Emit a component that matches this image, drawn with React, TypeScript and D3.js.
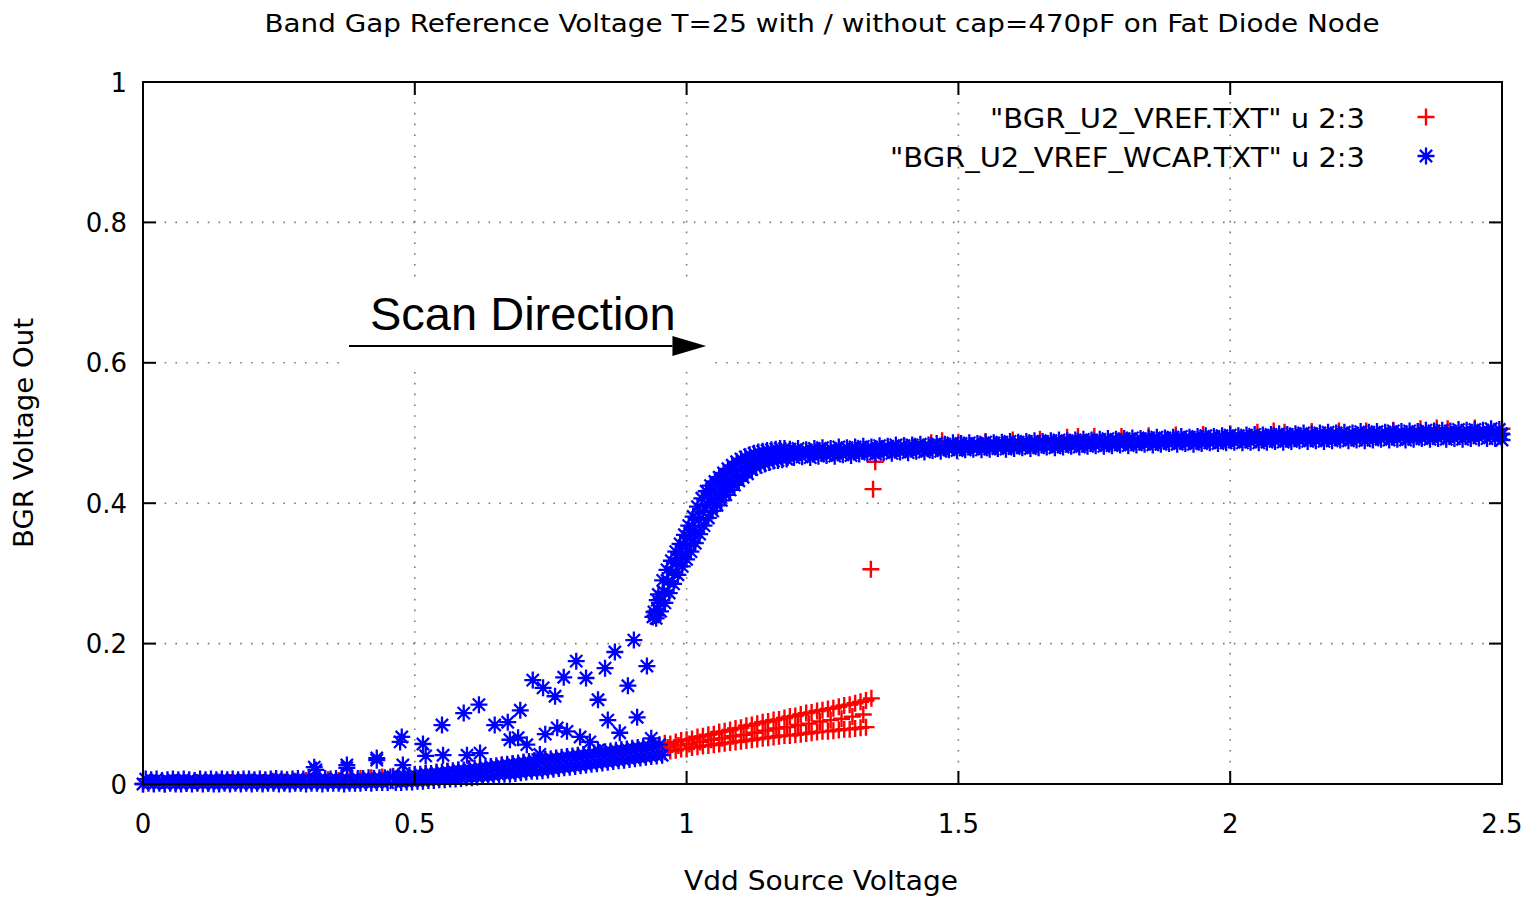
import React from 'react';
import * as d3 from 'd3';

const W = 1531;
const H = 901;

const titleText = 'Band Gap Reference Voltage T=25 with / without cap=470pF on Fat Diode Node';
const xLabelText = 'Vdd Source Voltage';
const yLabelText = 'BGR Voltage Out';
const legendLabels = ['"BGR_U2_VREF.TXT" u 2:3', '"BGR_U2_VREF_WCAP.TXT" u 2:3'];
const annotationText = 'Scan Direction';

const xTicks = [0, 0.5, 1, 1.5, 2, 2.5];
const xTickLabels = ['0', '0.5', '1', '1.5', '2', '2.5'];
const yTicks = [0, 0.2, 0.4, 0.6, 0.8, 1];
const yTickLabels = ['0', '0.2', '0.4', '0.6', '0.8', '1'];

// ---------- Red series: "BGR_U2_VREF.TXT" (no cap) ----------
const redRamp: [number, number][] = [
  [0, 0], [0.02, 0.001], [0.04, 0], [0.06, 0.002], [0.08, 0.001], [0.1, 0.002], [0.12, 0.001], [0.14, 0.003],
  [0.16, 0.002], [0.18, 0.002], [0.2, 0.003], [0.22, 0.002], [0.24, 0.004], [0.26, 0.003], [0.28, 0.004],
  [0.3, 0.005], [0.32, 0.004], [0.34, 0.006], [0.36, 0.005], [0.38, 0.007], [0.4, 0.008], [0.42, 0.009],
  [0.44, 0.01], [0.46, 0.011], [0.48, 0.012], [0.5, 0.014], [0.52, 0.015], [0.54, 0.017], [0.56, 0.018],
  [0.58, 0.02], [0.6, 0.022], [0.62, 0.023], [0.64, 0.025], [0.66, 0.027], [0.68, 0.029], [0.7, 0.031],
  [0.72, 0.033], [0.74, 0.035], [0.76, 0.036], [0.78, 0.038], [0.8, 0.04], [0.82, 0.041], [0.84, 0.043],
  [0.86, 0.045], [0.88, 0.046], [0.9, 0.048], [0.92, 0.05], [0.94, 0.052],
];
const redBandUpper: [number, number][] = [
  [0.95, 0.055], [0.96, 0.058], [0.97, 0.057], [0.98, 0.06], [0.99, 0.062], [1.0, 0.063], [1.01, 0.064],
  [1.02, 0.067], [1.03, 0.068], [1.04, 0.07], [1.05, 0.071], [1.06, 0.074], [1.07, 0.075], [1.08, 0.077],
  [1.09, 0.079], [1.1, 0.08], [1.11, 0.083], [1.12, 0.084], [1.13, 0.086], [1.14, 0.088], [1.15, 0.089],
  [1.16, 0.091], [1.17, 0.092], [1.18, 0.094], [1.19, 0.096], [1.2, 0.097], [1.21, 0.099], [1.22, 0.101],
  [1.23, 0.102], [1.24, 0.104], [1.25, 0.105], [1.26, 0.107], [1.27, 0.108], [1.28, 0.11], [1.29, 0.112],
  [1.3, 0.113], [1.31, 0.115], [1.32, 0.117], [1.33, 0.119], [1.34, 0.122],
];
const redBandMiddle: [number, number][] = [
  [0.965, 0.052], [0.985, 0.055], [1.005, 0.057], [1.025, 0.06], [1.045, 0.063], [1.065, 0.065], [1.085, 0.068],
  [1.105, 0.07], [1.125, 0.073], [1.145, 0.076], [1.165, 0.079], [1.185, 0.081], [1.205, 0.084], [1.225, 0.086],
  [1.245, 0.089], [1.265, 0.091], [1.285, 0.093], [1.305, 0.096], [1.325, 0.099],
];
const redBandLower: [number, number][] = [
  [0.96, 0.046], [0.97, 0.047], [0.98, 0.048], [0.99, 0.05], [1.0, 0.05], [1.01, 0.052], [1.02, 0.053],
  [1.03, 0.054], [1.04, 0.055], [1.05, 0.056], [1.06, 0.057], [1.07, 0.058], [1.08, 0.059], [1.09, 0.06],
  [1.1, 0.061], [1.11, 0.062], [1.12, 0.063], [1.13, 0.064], [1.14, 0.065], [1.15, 0.066], [1.16, 0.067],
  [1.17, 0.068], [1.18, 0.069], [1.19, 0.069], [1.2, 0.07], [1.21, 0.071], [1.22, 0.072], [1.23, 0.073],
  [1.24, 0.074], [1.25, 0.075], [1.26, 0.075], [1.27, 0.076], [1.28, 0.077], [1.29, 0.078], [1.3, 0.078],
  [1.31, 0.079], [1.32, 0.08], [1.33, 0.081],
];
const redJump: [number, number][] = [[1.339, 0.306], [1.343, 0.42], [1.347, 0.459]];
const redFlat: [number, number][] = [
  [1.36, 0.478], [1.4, 0.482], [1.45, 0.486], [1.47, 0.489], [1.5, 0.487], [1.55, 0.488], [1.6, 0.49],
  [1.65, 0.491], [1.7, 0.494], [1.72, 0.495], [1.75, 0.495], [1.8, 0.495], [1.85, 0.496], [1.9, 0.497],
  [1.95, 0.498], [2.0, 0.499], [2.05, 0.501], [2.08, 0.503], [2.1, 0.501], [2.15, 0.502], [2.2, 0.503],
  [2.25, 0.503], [2.3, 0.504], [2.35, 0.506], [2.38, 0.507], [2.4, 0.506], [2.45, 0.507], [2.5, 0.506],
];

// ---------- Blue series: "BGR_U2_VREF_WCAP.TXT" (with cap) ----------
const blueBaseStart = 0;
const blueBaseStep = 0.01;
const blueBaseUpper = [
  0.007, 0.006, 0.007, 0.005, 0.006, 0.007, 0.006, 0.007, 0.006, 0.005,
  0.007, 0.006, 0.007, 0.006, 0.007, 0.006, 0.007, 0.006, 0.007, 0.007,
  0.006, 0.007, 0.006, 0.007, 0.008, 0.007, 0.006, 0.007, 0.008, 0.007,
  0.007, 0.008, 0.007, 0.008, 0.007, 0.008, 0.007, 0.008, 0.007, 0.008,
  0.008, 0.009, 0.008, 0.009, 0.009, 0.01,
];
const blueBaseLower = [
  0.0, 0.001, 0.0, 0.001, 0.0, 0.001, 0.0, 0.0, 0.001, 0.0,
  0.001, 0.0, 0.001, 0.0, 0.0, 0.001, 0.0, 0.001, 0.0, 0.001,
  0.0, 0.001, 0.0, 0.001, 0.001, 0.0, 0.001, 0.0, 0.001, 0.001,
  0.0, 0.001, 0.001, 0.0, 0.001, 0.001, 0.001, 0.0, 0.001, 0.001,
  0.001, 0.002, 0.001, 0.002, 0.002, 0.002,
];
const blueRampStart = 0.46;
const blueRampStep = 0.01;
const blueRampUpper = [
  0.01, 0.011, 0.012, 0.012, 0.013, 0.014, 0.015, 0.015, 0.016, 0.017,
  0.018, 0.019, 0.02, 0.02, 0.021, 0.022, 0.023, 0.024, 0.025, 0.026,
  0.027, 0.028, 0.029, 0.03, 0.031, 0.032, 0.033, 0.034, 0.035, 0.036,
  0.037, 0.038, 0.039, 0.04, 0.041, 0.042, 0.043, 0.044, 0.045, 0.046,
  0.047, 0.048, 0.049, 0.05, 0.051, 0.052, 0.053, 0.054, 0.055, 0.056,
];
const blueRampLower = [
  0.002, 0.002, 0.003, 0.003, 0.004, 0.004, 0.005, 0.005, 0.006, 0.006,
  0.007, 0.007, 0.008, 0.009, 0.009, 0.01, 0.011, 0.011, 0.012, 0.013,
  0.014, 0.014, 0.015, 0.016, 0.017, 0.018, 0.018, 0.019, 0.02, 0.021,
  0.022, 0.023, 0.024, 0.025, 0.026, 0.027, 0.028, 0.029, 0.03, 0.031,
  0.032, 0.033, 0.034, 0.035, 0.036, 0.037, 0.038, 0.039, 0.04, 0.041,
];
const blueScatter: [number, number][] = [
  [0.318, 0.02], [0.375, 0.023], [0.43, 0.034], [0.476, 0.067], [0.478, 0.027], [0.515, 0.057],
  [0.55, 0.084], [0.552, 0.041], [0.59, 0.101], [0.618, 0.113], [0.596, 0.041], [0.62, 0.044],
  [0.647, 0.084], [0.671, 0.088], [0.675, 0.063], [0.694, 0.105], [0.717, 0.148], [0.736, 0.137],
  [0.758, 0.125], [0.774, 0.152], [0.797, 0.175], [0.815, 0.151], [0.837, 0.12], [0.85, 0.165],
  [0.868, 0.188], [0.903, 0.205], [0.892, 0.14], [0.927, 0.168], [0.909, 0.095], [0.855, 0.091],
  [0.877, 0.073], [0.706, 0.056], [0.74, 0.071], [0.762, 0.08], [0.78, 0.075], [0.804, 0.067],
  [0.822, 0.06], [0.837, 0.048], [0.935, 0.065], [0.73, 0.042], [0.69, 0.066], [0.52, 0.04],
  [0.938, 0.238], [0.946, 0.262], [0.315, 0.024], [0.375, 0.027], [0.43, 0.037], [0.473, 0.06],
];
const blueRiseStart = 0.94;
const blueRiseMiddleStart = 0.942;
const blueRiseLowerStart = 0.944;
const blueRiseStep = 0.008;
const blueRiseUpper = [
  0.245, 0.27, 0.29, 0.305, 0.318, 0.331, 0.342, 0.355, 0.368, 0.381,
  0.395, 0.407, 0.417, 0.425, 0.431, 0.437, 0.443, 0.449, 0.454, 0.459,
  0.463, 0.466, 0.469, 0.471, 0.473, 0.474, 0.475, 0.476, 0.477, 0.478, 0.478,
];
const blueRiseMiddle = [
  0.24, 0.258, 0.274, 0.289, 0.302, 0.315, 0.326, 0.338, 0.35, 0.362,
  0.376, 0.388, 0.398, 0.407, 0.414, 0.421, 0.428, 0.434, 0.44, 0.446,
  0.45, 0.454, 0.458, 0.461, 0.464, 0.465, 0.467, 0.468, 0.469, 0.47, 0.471,
];
const blueRiseLower = [
  0.236, 0.246, 0.258, 0.272, 0.285, 0.298, 0.31, 0.32, 0.331, 0.343,
  0.356, 0.368, 0.379, 0.389, 0.397, 0.404, 0.412, 0.419, 0.426, 0.432,
  0.437, 0.442, 0.448, 0.451, 0.454, 0.456, 0.458, 0.46, 0.461, 0.462, 0.463,
];
const blueFlatUpperStart = 1.19;
const blueFlatMiddleStart = 1.194;
const blueFlatLowerStart = 1.1975;
const blueFlatStep = 0.015;
const blueFlatUpper = [
  0.477, 0.478, 0.476, 0.478, 0.479, 0.478, 0.48, 0.479, 0.48, 0.481,
  0.48, 0.482, 0.481, 0.483, 0.482, 0.483, 0.484, 0.483, 0.485, 0.484,
  0.486, 0.485, 0.486, 0.485, 0.487, 0.486, 0.487, 0.488, 0.487, 0.488,
  0.489, 0.488, 0.489, 0.49, 0.489, 0.49, 0.491, 0.49, 0.491, 0.492,
  0.491, 0.492, 0.493, 0.492, 0.493, 0.494, 0.493, 0.494, 0.495, 0.494,
  0.495, 0.496, 0.495, 0.496, 0.497, 0.496, 0.497, 0.498, 0.497, 0.498,
  0.499, 0.498, 0.499, 0.5, 0.499, 0.5, 0.501, 0.5, 0.501, 0.5,
  0.502, 0.501, 0.502, 0.501, 0.503, 0.502, 0.503, 0.502, 0.504, 0.503,
  0.504, 0.503, 0.505, 0.504, 0.505, 0.504, 0.506, 0.505,
];
const blueFlatMiddle = [
  0.471, 0.472, 0.471, 0.473, 0.473, 0.472, 0.474, 0.474, 0.475, 0.476,
  0.475, 0.477, 0.476, 0.478, 0.477, 0.479, 0.478, 0.479, 0.48, 0.48,
  0.481, 0.48, 0.482, 0.481, 0.482, 0.482, 0.483, 0.483, 0.484, 0.483,
  0.484, 0.485, 0.484, 0.485, 0.486, 0.485, 0.486, 0.487, 0.486, 0.487,
  0.487, 0.488, 0.488, 0.489, 0.488, 0.489, 0.49, 0.489, 0.49, 0.49,
  0.49, 0.491, 0.49, 0.491, 0.492, 0.491, 0.492, 0.492, 0.492, 0.493,
  0.493, 0.493, 0.494, 0.494, 0.494, 0.494, 0.495, 0.495, 0.495, 0.495,
  0.496, 0.496, 0.496, 0.496, 0.497, 0.496, 0.497, 0.497, 0.497, 0.498,
  0.497, 0.498, 0.498, 0.498, 0.499, 0.498, 0.499, 0.499,
];
const blueFlatLower = [
  0.465, 0.466, 0.465, 0.467, 0.468, 0.467, 0.469, 0.468, 0.47, 0.471,
  0.47, 0.472, 0.471, 0.473, 0.472, 0.474, 0.473, 0.475, 0.474, 0.476,
  0.475, 0.476, 0.477, 0.476, 0.477, 0.478, 0.477, 0.478, 0.479, 0.478,
  0.479, 0.48, 0.479, 0.48, 0.481, 0.48, 0.481, 0.482, 0.481, 0.482,
  0.483, 0.482, 0.483, 0.484, 0.483, 0.484, 0.485, 0.484, 0.485, 0.484,
  0.485, 0.486, 0.485, 0.486, 0.487, 0.486, 0.487, 0.486, 0.487, 0.488,
  0.487, 0.488, 0.489, 0.488, 0.489, 0.488, 0.489, 0.49, 0.489, 0.49,
  0.489, 0.49, 0.491, 0.49, 0.491, 0.49, 0.491, 0.492, 0.491, 0.492,
  0.491, 0.492, 0.491, 0.492, 0.493, 0.492, 0.492,
];
const blueEnd: [number, number][] = [[2.5, 0.498], [2.5, 0.49]];

const sweep = (start: number, step: number, ys: number[]): [number, number][] =>
  ys.map((y, i) => [start + i * step, y]);

const redPoints: [number, number][] = [
  ...redRamp, ...redBandLower, ...redBandMiddle, ...redBandUpper, ...redJump, ...redFlat,
];
const bluePoints: [number, number][] = [
  ...sweep(blueBaseStart, blueBaseStep, blueBaseLower),
  ...sweep(blueBaseStart + 0.005, blueBaseStep, blueBaseUpper),
  ...sweep(blueRampStart + 0.005, blueRampStep, blueRampLower),
  ...sweep(blueRampStart, blueRampStep, blueRampUpper),
  ...blueScatter,
  ...sweep(blueRiseStart, blueRiseStep, blueRiseUpper),
  ...sweep(blueRiseMiddleStart, blueRiseStep, blueRiseMiddle),
  ...sweep(blueRiseLowerStart, blueRiseStep, blueRiseLower),
  ...sweep(blueFlatUpperStart, blueFlatStep, blueFlatUpper),
  ...sweep(blueFlatMiddleStart, blueFlatStep, blueFlatMiddle),
  ...sweep(blueFlatLowerStart, blueFlatStep, blueFlatLower),
  ...blueEnd,
];

const RED = '#ff0000';
const BLUE = '#0000ff';
const FONT = '"DejaVu Sans", sans-serif';

const plusPath = (x: number, y: number, r: number) =>
  `M${x - r},${y}h${2 * r}M${x},${y - r}v${2 * r}`;
const starPath = (x: number, y: number, r: number) => {
  const d = r * 0.72;
  return `M${x - r},${y}h${2 * r}M${x},${y - r}v${2 * r}M${x - d},${y - d}l${2 * d},${2 * d}M${x - d},${y + d}l${2 * d},${-2 * d}`;
};

export default function App() {
  const left = 143, right = 1502, top = 82, bottom = 784;
  const x = d3.scaleLinear().domain([0, 2.5]).range([left, right]);
  const y = d3.scaleLinear().domain([0, 1]).range([bottom, top]);
  const tickLen = 13;
  const markR = 8.5;

  const redD = redPoints.map(([a, b]) => plusPath(x(a), y(b), markR)).join('');
  const blueD = bluePoints.map(([a, b]) => starPath(x(a), y(b), markR)).join('');

  const annBox = { x0: 0.362, x1: 1.05, y0: 0.72, y1: 0.596 };
  const arrow = { x0: 0.379, x1: 1.036, y: 0.624 };
  const arrowHead = 0.062;

  return (
    <svg width={W} height={H} style={{ position: 'absolute', left: 0, top: 0, background: '#fff' }}
      fontFamily={FONT}>
      <rect x={0} y={0} width={W} height={H} fill="#fff" />
      <g stroke="#7a7a7a" strokeWidth={1.6} strokeDasharray="1.6,9.2">
        {xTicks.slice(1, -1).map((t) => (
          <line key={'gx' + t} x1={x(t)} x2={x(t)} y1={bottom} y2={top} />
        ))}
        {yTicks.slice(1, -1).map((t) => (
          <line key={'gy' + t} x1={left} x2={right} y1={y(t)} y2={y(t)} />
        ))}
      </g>
      <path d={redD} stroke={RED} strokeWidth={2.4} fill="none" />
      <path d={blueD} stroke={BLUE} strokeWidth={2.3} fill="none" />
      <rect x={x(annBox.x0)} y={y(annBox.y0)} width={x(annBox.x1) - x(annBox.x0)}
        height={y(annBox.y1) - y(annBox.y0)} fill="#fff" />
      <text x={x(0.4176)} y={y(0.647)} fontFamily='"Liberation Sans", Arial, sans-serif' fontSize={47}
        fill="#000">{annotationText}</text>
      <line x1={x(arrow.x0)} x2={x(arrow.x1 - arrowHead)} y1={y(arrow.y)} y2={y(arrow.y)} stroke="#000" strokeWidth={2} />
      <path d={`M${x(arrow.x1 - arrowHead)},${y(arrow.y) - 10}L${x(arrow.x1)},${y(arrow.y)}L${x(arrow.x1 - arrowHead)},${y(arrow.y) + 10}Z`} fill="#000" />
      <rect x={left} y={top} width={right - left} height={bottom - top} fill="none" stroke="#000" strokeWidth={2} />
      <g stroke="#000" strokeWidth={2}>
        {xTicks.map((t) => (
          <g key={'tx' + t}>
            <line x1={x(t)} x2={x(t)} y1={bottom} y2={bottom - tickLen} />
            <line x1={x(t)} x2={x(t)} y1={top} y2={top + tickLen} />
          </g>
        ))}
        {yTicks.map((t) => (
          <g key={'ty' + t}>
            <line x1={left} x2={left + tickLen} y1={y(t)} y2={y(t)} />
            <line x1={right} x2={right - tickLen} y1={y(t)} y2={y(t)} />
          </g>
        ))}
      </g>
      <g fontSize={26} fill="#000">
        {xTicks.map((t, i) => (
          <text key={'lx' + t} x={x(t)} y={833} textAnchor="middle">{xTickLabels[i]}</text>
        ))}
        {yTicks.map((t, i) => (
          <text key={'ly' + t} x={127} y={y(t) + 9.5} textAnchor="end">{yTickLabels[i]}</text>
        ))}
      </g>
      <text x={822} y={32} fontSize={25} textAnchor="middle" textLength={1115} lengthAdjust="spacingAndGlyphs">{titleText}</text>
      <text x={821} y={890} fontSize={26} textAnchor="middle" textLength={274} lengthAdjust="spacingAndGlyphs">{xLabelText}</text>
      <text transform="translate(33,433) rotate(-90)" fontSize={26} textAnchor="middle" textLength={230} lengthAdjust="spacingAndGlyphs">{yLabelText}</text>
      <text x={1365} y={128} fontSize={26} textAnchor="end" textLength={375} lengthAdjust="spacingAndGlyphs">{legendLabels[0]}</text>
      <text x={1365} y={167} fontSize={26} textAnchor="end" textLength={475} lengthAdjust="spacingAndGlyphs">{legendLabels[1]}</text>
      <path d={plusPath(1426, 117, markR)} stroke={RED} strokeWidth={2.4} />
      <path d={starPath(1426, 156, markR)} stroke={BLUE} strokeWidth={2.3} />
    </svg>
  );
}
